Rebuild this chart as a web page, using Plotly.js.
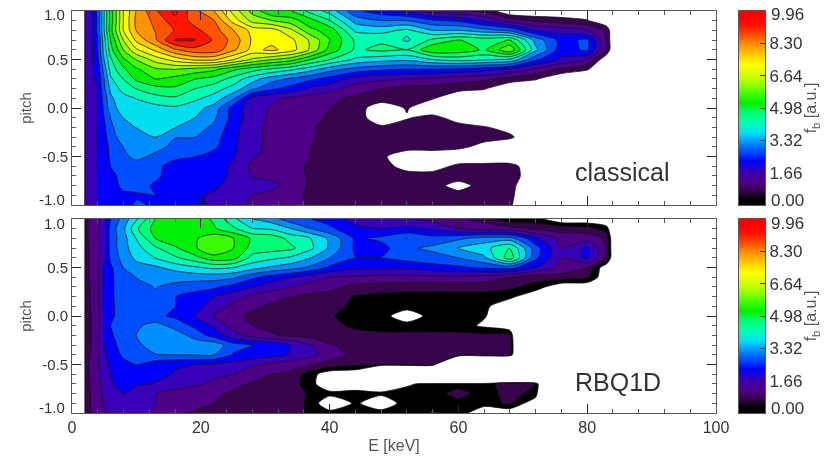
<!DOCTYPE html>
<html><head><meta charset="utf-8">
<script src="https://cdn.plot.ly/plotly-3.0.1.min.js"></script>
<style>html,body{margin:0;padding:0;background:#fff}#plot{width:824px;height:463px;filter:blur(0.45px)}</style>
</head><body><div id="plot"></div>
<script>
const energy = [2,3,4,5,6,8,10,13,16,19,22,25,28,31,34,37,40,44,48,52,56,60,64,68,72,76,80,83];
const pitch = [1,.9,.8,.7,.6,.5,.4,.3,.2,.1,0,-.1,-.2,-.3,-.4,-.5,-.6,-.7,-.8,-.9,-1];
const classical = [
[1.6,1.9,2.6,4.0,5.2,7.0,8.0,8.9,9.6,8.6,8.0,6.8,5.8,5.0,5.0,4.3,3.8,2.6,2.2,1.9,1.2,1.1,.9,0,0,0,0,0],
[1.6,1.9,2.6,4.0,5.2,7.0,8.1,8.6,9.3,8.8,8.5,7.3,6.3,6.0,5.7,5.2,4.5,3.3,3.0,3.0,2.6,2.4,1.9,1.3,.9,.75,.55,0],
[1.6,1.9,2.6,4.0,5.3,7.0,8.0,8.5,9.0,9.1,8.7,8.0,7.3,7.2,6.6,5.6,5.3,3.9,3.8,4.1,3.5,3.5,3.2,2.9,2.0,1.8,1.5,.9],
[1.6,1.9,2.5,3.8,5.0,6.5,7.6,8.4,9.5,9.5,8.9,8.3,7.4,7.3,7.1,6.4,5.5,4.4,4.4,3.9,4.6,5.0,4.8,5.0,3.3,2.3,2.6,1.0],
[1.6,1.9,2.5,3.7,4.8,6.0,6.9,7.6,8.4,8.8,8.8,8.1,7.3,7.6,7.2,6.4,5.3,4.4,4.6,4.5,5.4,5.3,4.9,5.9,3.6,2.2,2.6,1.0],
[1.6,1.9,2.3,3.5,4.4,5.4,6.0,6.7,7.2,7.6,7.6,7.0,6.4,6.0,5.7,5.0,4.5,3.9,3.7,3.6,4.0,4.2,4.1,3.9,2.6,1.9,1.5,0],
[1.6,1.9,2.2,3.2,4.2,4.9,5.4,5.9,6.0,5.8,5.6,5.1,4.7,4.4,4.1,3.7,3.2,2.8,2.6,2.5,2.5,2.4,2.2,1.9,1.4,.9,.55,0],
[1.6,1.9,2.1,3.0,3.9,4.5,5.1,5.5,5.3,5.0,4.8,4.3,3.7,3.2,2.9,2.6,2.3,1.8,1.6,1.5,1.4,1.2,1.1,.8,.55,0,0,0],
[1.6,1.9,2.0,2.9,3.6,4.2,4.5,4.8,4.9,4.5,4.2,3.8,3.1,2.6,2.3,1.9,1.7,1.25,1.0,.8,.8,.7,.55,0,0,0,0,0],
[1.6,1.9,2.0,2.7,3.4,3.8,4.0,4.3,4.4,4.1,3.8,3.1,1.8,1.6,1.4,1.25,1.1,.9,.8,.7,.55,0,0,0,0,0,0,0],
[1.6,1.9,2.0,2.6,3.3,3.7,3.8,3.8,3.9,3.7,3.3,2.3,1.7,1.45,1.3,1.15,1.0,.8,.1,.55,0,0,0,0,0,0,0,0],
[1.6,1.9,2.0,2.5,3.0,3.5,3.6,3.6,3.7,3.5,3.1,2.3,1.7,1.4,1.25,1.1,.95,.8,.1,.45,.7,.2,0,0,0,0,0,0],
[1.6,1.9,2.0,2.4,2.9,3.3,3.5,3.5,3.5,3.2,2.9,2.2,1.6,1.4,1.25,1.05,.85,.75,.6,.75,.8,.75,.55,.3,0,0,0,0],
[1.6,1.9,2.0,2.3,2.8,3.2,3.3,3.5,3.0,3.0,2.7,2.15,1.6,1.4,1.25,1.05,.85,.75,.7,.7,.8,.8,.7,.6,0,0,0,0],
[1.6,1.9,2.0,2.1,2.7,3.0,3.1,3.1,2.9,2.8,2.6,2.1,1.6,1.4,1.25,1.0,.85,.75,.7,.8,.8,.65,.3,0,0,0,0,0],
[1.6,1.85,2.0,2.1,2.6,2.9,3.1,2.9,2.6,2.5,2.3,2.05,1.55,1.35,1.2,1.0,.85,.75,.65,0,0,0,0,0,0,0,0,0],
[1.6,1.85,2.0,2.05,2.5,2.7,2.8,2.6,2.3,2.4,2.3,1.9,1.4,1.3,1.1,.95,.8,.7,.7,.3,.2,.65,.7,.7,.1,0,0,0],
[1.6,1.85,2.0,2.05,2.4,2.6,2.7,2.6,2.2,2.2,2.2,1.9,1.45,1.3,1.15,.95,.8,.7,.7,.7,.75,.75,.7,.7,.2,0,0,0],
[1.6,1.85,2.0,2.05,2.3,2.6,2.7,2.4,2.1,2.1,2.1,1.8,1.75,1.7,1.2,.95,.8,.7,.65,.65,.7,.3,.7,.65,0,0,0,0],
[1.6,1.85,2.0,2.05,2.2,2.4,2.4,2.5,2.2,2.1,1.9,1.8,1.5,1.3,1.15,.9,.8,.75,.7,.65,.7,.7,.7,.6,0,0,0,0],
[1.6,1.85,2.0,2.05,2.1,2.2,2.6,2.4,2.2,2.1,1.9,1.7,1.4,1.2,1.15,.95,.8,.7,.65,.65,.7,.7,.65,.55,0,0,0,0]
];
const rbq1d = [
[.8,1.2,1.4,1.8,2.5,3.2,3.9,5.0,5.4,5.3,4.9,4.1,3.5,3.2,2.7,2.5,2.3,1.8,1.6,1.6,1.3,1.1,.8,.1,.2,-.5,-.5,-.5],
[.8,1.2,1.4,1.8,2.7,3.4,4.4,5.2,5.4,5.4,5.05,4.6,4.0,3.9,3.5,3.0,2.6,2.1,2.0,2.1,1.9,1.5,1.3,1.2,.9,.8,.7,.2],
[.8,1.2,1.4,1.8,2.7,3.3,4.0,5.0,5.3,5.4,5.8,5.5,4.9,4.8,4.3,4.0,3.4,2.4,2.6,3.0,2.7,2.9,3.2,3.2,2.1,1.3,1.3,.9],
[.8,1.1,1.4,1.8,2.7,3.3,3.8,4.4,4.9,5.4,5.9,5.5,4.8,4.7,4.6,4.1,3.4,2.4,2.3,2.9,3.1,3.5,3.8,4.5,2.7,1.5,2.1,1.0],
[.8,1.1,1.4,1.8,2.6,3.2,3.6,4.0,4.4,4.8,5.3,5.2,4.3,4.1,3.9,3.5,3.0,2.5,2.5,2.7,2.8,3.0,3.4,4.8,2.6,1.5,2.1,.9],
[.8,1.1,1.4,2.1,2.4,3.0,3.3,3.4,3.7,3.9,4.1,4.0,3.7,3.4,3.2,2.9,2.4,2.1,2.1,2.1,2.3,2.4,2.6,2.7,2.0,1.3,1.0,-.5],
[.8,1.1,1.4,2.1,2.4,2.8,3.0,3.1,3.1,3.2,3.2,3.1,2.6,2.3,2.0,1.7,1.5,1.4,1.35,1.35,1.35,1.4,1.3,1.0,.7,.8,.6,-.5],
[.75,1.05,1.4,2.1,2.4,2.8,2.9,3.0,2.9,2.7,2.6,2.3,2.0,1.7,1.5,1.3,1.15,.85,.75,.7,.7,.7,.7,.6,.3,-.5,-.5,-.5],
[.75,1.05,1.4,2.1,2.4,2.75,2.85,2.95,2.5,2.3,2.0,1.7,1.35,1.2,1.0,.85,.8,.45,.35,.3,.3,.3,.3,.15,-.5,-.5,-.5,-.5],
[.75,1.05,1.35,2.1,2.4,2.7,2.8,2.7,2.5,2.2,1.8,1.35,1.1,.9,.8,.75,.65,.4,.3,.3,.3,.3,.15,-.5,-.5,-.5,-.5,-.5],
[.7,1.0,1.3,2.1,2.4,2.7,2.75,2.6,2.4,2.0,1.5,1.1,.9,.7,.65,.6,.55,.3,.3,-.5,.3,.3,.05,-.5,-.5,-.5,-.5,-.5],
[.7,1.0,1.3,2.1,2.5,2.8,2.9,3.2,2.8,2.4,1.9,1.3,1.0,.85,.8,.75,.65,.4,.3,.3,.3,.25,-.1,-.5,-.5,-.5,-.5,-.5],
[.7,1.0,1.3,2.1,2.4,2.8,3.0,3.3,3.3,2.8,2.3,1.7,1.3,1.05,.9,.8,.7,.65,.6,.6,.6,.6,.6,.55,-5,-5,-5,-5],
[.7,1.0,1.3,2.0,2.3,2.7,2.8,3.4,3.3,3.3,3.3,2.7,2.5,2.4,2.0,1.55,1.05,.8,.75,.75,.8,.8,.75,.7,-5,-5,-5,-5],
[.7,1.1,1.4,1.9,2.3,2.55,2.8,2.95,3.0,3.0,3.0,2.45,2.3,2.15,1.95,1.65,1.25,.85,.75,.75,.75,.7,.65,.55,-5,-5,-5,-5],
[.7,1.2,1.45,1.8,2.1,2.4,2.5,2.2,2.05,2.0,1.95,1.8,1.55,1.35,1.2,1.05,.8,.6,.55,.55,.55,-5,-5,-5,-5,-5,-5,-5],
[.7,1.15,1.4,1.75,2.0,2.3,2.35,2.2,1.95,1.75,1.6,1.5,1.3,1.0,.9,.25,-.4,-.5,-5,-5,-5,-5,-5,-5,-5,-5,-5,-5],
[.7,1.1,1.35,1.7,1.95,2.1,2.1,1.95,1.7,1.6,1.4,1.1,.95,.8,.7,.25,-.6,-.5,-.5,-.1,.2,.25,.25,.8,.5,-5,-5,-5],
[.7,1.05,1.3,1.6,1.9,2.0,1.6,1.5,1.35,1.15,1.05,.95,.75,.7,.65,.45,.2,.25,.1,.25,.25,.7,.25,.7,.3,-5,-5,-5],
[.7,1.05,1.25,1.55,1.75,1.85,1.7,1.5,1.3,1.15,1.0,.85,.7,.65,.6,.45,-.6,.1,-.4,.25,.35,.3,.25,.6,-.5,-5,-5,-5],
[.7,1.0,1.2,1.4,1.6,1.7,1.6,1.45,1.05,.95,.85,.75,.7,.65,.6,.45,.25,.25,.2,.2,.55,.3,-.5,-.5,-.5,-.5,-.5,-.5]
];
const barLevels = [0,.3,.75,1.25,1.75,2.25,2.75,3.25,3.75,4.25,4.75,5.25,5.75,6.25,6.75,7.25,7.75,8.25,8.75,9.25,9.75,9.96];
const barColors = ['#000000','#000000','#38044e','#4e0088','#3800b8','#0000ff','#0050ff','#0090ff','#00e0f0','#00ffb0','#00ff70','#00f000','#40ff00','#a0ff00','#d8ff00','#ffff00','#ffc800','#ff9000','#ff5000','#ff1000','#ff0000','#ff0000'];
const barTicks = [0,1.66,3.32,4.98,6.64,8.30,9.96];
const barTickText = ['','1.66','3.32','4.98','6.64','8.30',''];
const pitchTicks = [-1,-.5,0,.5,1];
const pitchTickText = ['','-0.5','0.0','0.5',''];
const energyTicks = [0,20,40,60,80,100];
const panelLabels = ['classical','RBQ1D'];

const TOP = 9.96, STEP = 0.498, W = 824, H = 463, INK = '#333', HALF = STEP / 2;
const fy = px => 1 - px / H, fx = px => px / W;
const pad = (rows, blank) => rows.map(r => [blank, ...r, blank]);
const xPad = [1.95, ...energy, 84];

const fullScale = barLevels.map((v, i) => [v / TOP, barColors[i]]);
// filled contours spread the colorscale over [start - step/2, end + step/2]
const toT = (v, start) => (v - (start - HALF)) / (TOP - start + STEP);
const stopsAbove = (start, minV) => barLevels.map((v, i) => [toT(v, start), barColors[i]]).filter((s, i) => barLevels[i] >= minV);
const topScale = [[0,'#ffffff'],[toT(.49, STEP),'#ffffff'],[toT(.5, STEP),'#38044e'], ...stopsAbove(STEP, .75), [1,'#ff0000']];
const botScale = [[0,'#ffffff'],[toT(-.01, 0),'#ffffff'],[toT(0, 0),'#000000'], ...stopsAbove(0, .3), [1,'#ff0000']];

const contour = (z, xa, ya, scale, start) => ({
  type:'contour', x:xPad, y:pitch, z, xaxis:xa, yaxis:ya, showscale:false,
  colorscale:scale, autocontour:false, connectgaps:false,
  contours:{coloring:'fill', start, end:TOP, size:STEP, showlines:true},
  line:{color:'#151515', width:0.8, smoothing:0.7}, hoverinfo:'skip'
});
const bar = (xa, ya) => ({
  type:'heatmap', x:[0,1], y:barLevels, z:barLevels.map(v => [v, v]),
  xaxis:xa, yaxis:ya, colorscale:fullScale, zmin:0, zmax:TOP, showscale:false,
  zsmooth:'best', hoverinfo:'skip'
});
const font = {family:'"Liberation Sans", Arial, sans-serif', color:INK};
const xAxis = (top, bottom, labels) => ({
  domain:[fx(72), fx(716)], range:[0,100], anchor:labels, tickmode:'array', tickvals:energyTicks,
  showticklabels:top, ticks:'inside', ticklen:9, tickcolor:'#222', tickwidth:1,
  minor:{dtick:4, ticks:'inside', ticklen:4, tickcolor:'#555', tickwidth:1},
  showline:true, linecolor:'#555', linewidth:1, mirror:'ticks', showgrid:false, zeroline:false,
  tickfont:{...font, size:16}, title: bottom ? {text:'E [keV]', font:{...font, size:16, color:'#555'}, standoff:4} : undefined
});
const yAxis = (t, b, anchor) => ({
  domain:[fy(b), fy(t)], range:[-1,1], anchor, tickmode:'array', tickvals:pitchTicks, ticktext:pitchTickText,
  ticks:'inside', ticklen:9, tickcolor:'#222', tickwidth:1,
  minor:{dtick:.1, ticks:'inside', ticklen:4, tickcolor:'#555', tickwidth:1},
  showline:true, linecolor:'#555', linewidth:1, mirror:'ticks', showgrid:false, zeroline:false,
  tickfont:{...font, size:15}, title:{text:'pitch', font:{...font, size:15, color:'#555'}, standoff:6}
});
const barX = anchor => ({domain:[fx(739), fx(765)], range:[0,1], anchor, showticklabels:false, ticks:'',
  showline:true, linecolor:'#555', mirror:true, showgrid:false, zeroline:false});
const barY = (t, b, anchor) => ({domain:[fy(b), fy(t)], range:[0,TOP], anchor, side:'right',
  tickmode:'array', tickvals:barTicks, ticktext:barTickText, ticks:'inside', ticklen:5, tickcolor:'#222',
  showline:true, linecolor:'#555', mirror:true, showgrid:false, zeroline:false, tickfont:{...font, size:17},
  title:{text:'f<sub>b</sub> [a.u.]', font:{...font, size:16, color:'#555'}, standoff:2}});

const data = [
  contour(pad(classical, 0), 'x', 'y', topScale, STEP),
  contour(pad(rbq1d, -.5), 'x2', 'y2', botScale, 0),
  bar('x3','y3'), bar('x4','y4')
];
const note = (text, xref, yref, x, y) => ({text, xref, yref, x, y, showarrow:false, xanchor:'left',
  font:{...font, size:25}});
// end labels sit just inside the axis ends, as in the reference
const endLabel = (text, xpx, ypx, size, anchor) => ({text, xref:'paper', yref:'paper', x:fx(xpx), y:fy(ypx),
  showarrow:false, xanchor:anchor, yanchor:'middle', font:{...font, size}});
const layout = {
  width:W, height:H, margin:{l:0,r:0,t:0,b:0}, paper_bgcolor:'#fff', plot_bgcolor:'#fff', showlegend:false,
  xaxis:xAxis(false,false,'y'), yaxis:yAxis(11,205,'x'),
  xaxis2:xAxis(true,true,'y2'), yaxis2:yAxis(219,413,'x2'),
  xaxis3:barX('y3'), yaxis3:barY(11,205,'x3'),
  xaxis4:barX('y4'), yaxis4:barY(219,413,'x4'),
  annotations:[note(panelLabels[0],'x','y',77.8,-.66), note(panelLabels[1],'x2','y2',77.8,-.68),
    endLabel('1.0',67,15,15,'right'), endLabel('-1.0',67,199,15,'right'),
    endLabel('1.0',67,223,15,'right'), endLabel('-1.0',67,407,15,'right'),
    endLabel('9.96',769,15,17,'left'), endLabel('0.00',769,200,17,'left'),
    endLabel('9.96',769,223,17,'left'), endLabel('0.00',769,408,17,'left')]
};
Plotly.newPlot('plot', data, layout, {displayModeBar:false, staticPlot:true});
</script></body></html>
